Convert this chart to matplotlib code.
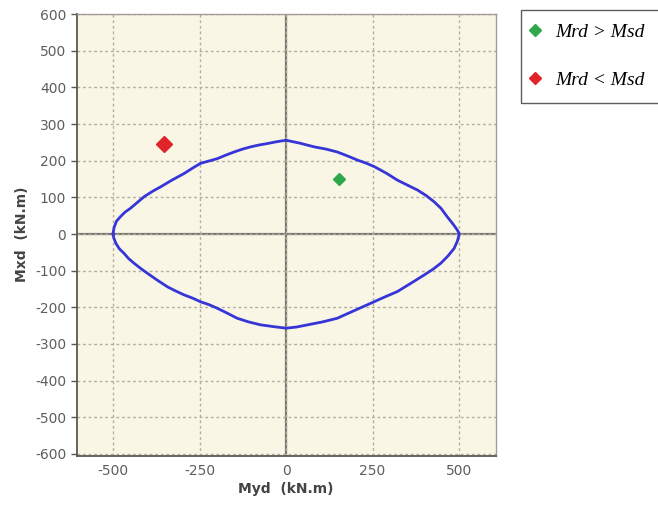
import matplotlib
matplotlib.use("Agg")
import matplotlib.pyplot as plt
from matplotlib.lines import Line2D

plt.rcParams["axes.unicode_minus"] = False

# Interaction curve (Myd, Mxd), kN.m
curve_myd = [-500, -497, -490, -478, -465, -450, -435, -410, -385, -362, -330, -295,
             -270, -247, -220, -198, -175, -150, -125, -102, -78, -54, -27, 0,
             40, 81, 115, 148, 178, 206, 230, 255, 290, 322, 352, 380, 405, 428,
             448, 466, 482, 495, 501,
             500, 495, 486, 468, 447, 425, 399, 360, 322, 285, 245, 195, 148, 105,
             62, 30, 0,
             -35, -73, -108, -141, -170, -198, -222, -247, -270, -295, -320, -343,
             -372, -401, -420, -439, -455, -468, -482, -492, -498, -500]
curve_mxd = [0, 18, 35, 48, 60, 70, 82, 102, 117, 129, 147, 165,
             180, 193, 200, 206, 215, 224, 232, 238, 243, 247, 252, 256,
             248, 238, 232, 224, 213, 202, 194, 184, 166, 147, 133, 120, 105, 88,
             70, 47, 28, 11, 0,
             -3, -20, -39, -60, -80, -96, -112, -135, -157, -172, -189, -210, -230, -240,
             -248, -254, -257,
             -253, -248, -240, -230, -216, -203, -193, -185, -175, -166, -155, -144,
             -126, -107, -94, -80, -67, -53, -40, -25, -10, 0]

ok_myd, ok_mxd = [153], [149]      # Mrd > Msd
ko_myd, ko_mxd = [-353], [247]     # Mrd < Msd

xticks = [-500, -250, 0, 250, 500]
yticks = [-600, -500, -400, -300, -200, -100, 0, 100, 200, 300, 400, 500, 600]

fig = plt.figure(figsize=(6.58, 5.08), dpi=100)
fig.patch.set_facecolor("white")
ax = fig.add_axes([76.7/658, (508-456.0)/508, (495.7-76.7)/658, (456.0-13.5)/508])
ax.set_facecolor("#faf6e6")

ax.set_xlim(-605, 606)
ax.set_ylim(-606, 602)
ax.set_xticks(xticks)
ax.set_yticks(yticks)

ax.grid(True, color="#b3aea0", linestyle=(0, (2, 2)), linewidth=1.0)
ax.axhline(0, color="#7a7870", linewidth=1.6, zorder=1)
ax.axvline(0, color="#7a7870", linewidth=1.6, zorder=1)

ax.plot(curve_myd, curve_mxd, color="#3535d8", linewidth=2.0, zorder=3,
        solid_joinstyle="round")
ax.plot(ok_myd, ok_mxd, linestyle="none", marker="D", markersize=6.5,
        color="#2ea84a", zorder=4)
ax.plot(ko_myd, ko_mxd, linestyle="none", marker="D", markersize=8.5,
        color="#e0242a", zorder=4)

for side in ("left", "bottom"):
    ax.spines[side].set_color("#5a5850")
    ax.spines[side].set_linewidth(1.3)
for side in ("top", "right"):
    ax.spines[side].set_color("#a09d95")
    ax.spines[side].set_linewidth(1.0)
ax.tick_params(axis="y", colors="#5a5850", labelcolor="#5e5e5e",
               labelsize=10, length=4, width=1)
ax.tick_params(axis="x", colors="#5a5850", labelcolor="#5e5e5e",
               labelsize=10, length=0, pad=6)

ax.set_xlabel("Myd  (kN.m)", fontsize=10, fontweight="bold", color="#444444", labelpad=3)
ax.set_ylabel("Mxd  (kN.m)", fontsize=10, fontweight="bold", color="#444444", labelpad=4)

handles = [
    Line2D([], [], linestyle="none", marker="D", markersize=6.5, color="#2ea84a"),
    Line2D([], [], linestyle="none", marker="D", markersize=6.5, color="#e0242a"),
]
leg = fig.legend(handles, ["Mrd > Msd", "Mrd < Msd"],
                 loc="upper left", bbox_to_anchor=(521/658, 1 - 10/508, 0.25, 0),
                 mode="expand",
                 prop={"family": "Liberation Serif", "style": "italic", "size": 14},
                 frameon=True, fancybox=False, edgecolor="#333333",
                 labelspacing=1.55, handletextpad=1.0, handlelength=0.05,
                 borderpad=0.7, borderaxespad=0)
leg.get_frame().set_linewidth(1.0)

fig.savefig("out.png", dpi=100)
